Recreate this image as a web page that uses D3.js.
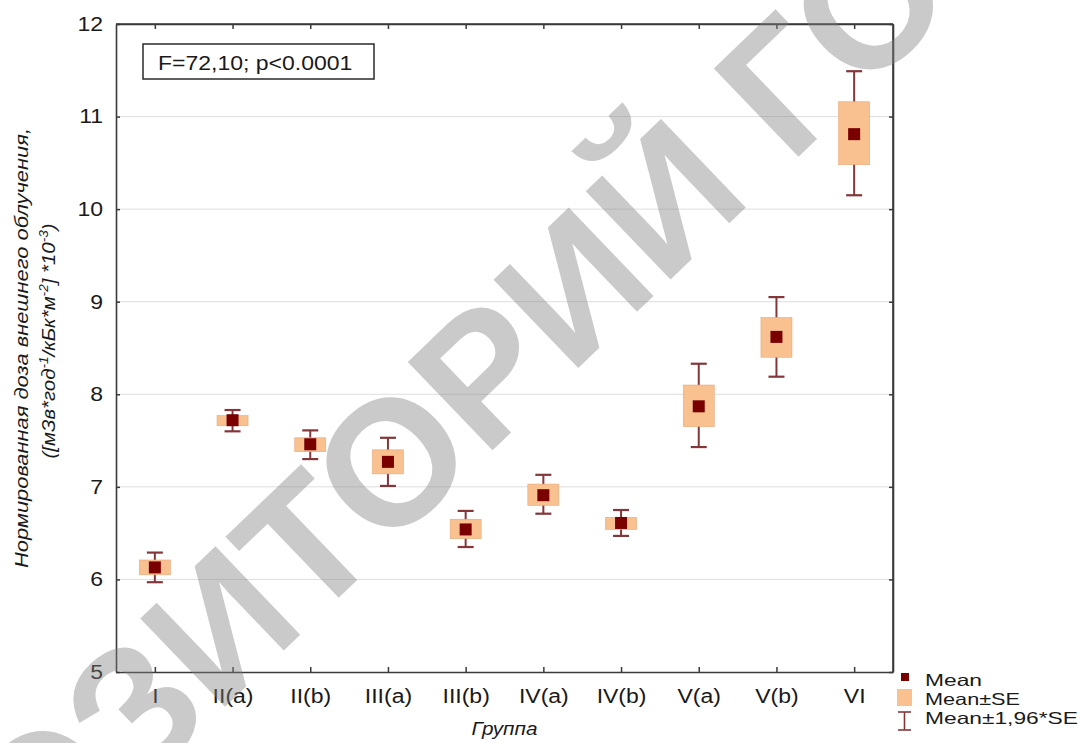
<!DOCTYPE html>
<html>
<head>
<meta charset="utf-8">
<script src="https://cdn.jsdelivr.net/npm/d3@7"></script>
<style>
  html, body { margin: 0; padding: 0; background: #fff; }
  svg { display: block; }
  text { font-family: "Liberation Sans", Arial, sans-serif; }
</style>
</head>
<body>
<svg id="chart" width="1082" height="743"></svg>
<script>
// ---- data ----
const categories = ["I", "II(a)", "II(b)", "III(a)", "III(b)", "IV(a)", "IV(b)", "V(a)", "V(b)", "VI"];
const means  = [6.13, 7.72, 7.46, 7.27, 6.54, 6.91, 6.61, 7.87, 8.62, 10.81];
const seLow  = [6.05, 7.66, 7.38, 7.14, 6.44, 6.80, 6.54, 7.65, 8.40, 10.48];
const seHigh = [6.21, 7.77, 7.53, 7.40, 6.65, 7.03, 6.67, 8.10, 8.83, 11.16];
const ciLow  = [5.97, 7.60, 7.30, 7.01, 6.35, 6.71, 6.47, 7.43, 8.19, 10.15];
const ciHigh = [6.29, 7.83, 7.61, 7.53, 6.74, 7.13, 6.75, 8.33, 9.05, 11.49];
const yTicks = [5, 6, 7, 8, 9, 10, 11, 12];
const annotation = "F=72,10; p<0.0001";
const xTitle = "Группа";
const legendLabels = ["Mean", "Mean±SE", "Mean±1,96*SE"];

// ---- layout ----
const L = 116, R = 893, T = 24, B = 672;
const svg = d3.select("#chart");
const stretch = 1.15;

const x = d3.scalePoint().domain(categories).range([L, R]).padding(0.5);
const y = d3.scaleLinear().domain([5, 12]).range([B, T]);

const rows = categories.map((c, i) => ({
  c, mean: means[i], seLo: seLow[i], seHi: seHigh[i], ciLo: ciLow[i], ciHi: ciHigh[i]
}));

// grid
svg.append("g").selectAll("line").data(yTicks.filter(v => v > 5 && v < 12)).join("line")
  .attr("x1", L).attr("x2", R).attr("y1", d => y(d)).attr("y2", d => y(d))
  .attr("stroke", "#dedede").attr("stroke-width", 1);

// axes
const axisColor = "#3a3a3a";
const gL = svg.append("g").attr("transform", `translate(${L},0)`)
  .call(d3.axisLeft(y).tickValues(yTicks).tickFormat(d3.format("d")).tickSizeInner(-4).tickSizeOuter(0).tickPadding(13));
const gB = svg.append("g").attr("transform", `translate(0,${B})`)
  .call(d3.axisBottom(x).tickSizeInner(-5).tickSizeOuter(0).tickPadding(17));
const gT = svg.append("g").attr("transform", `translate(0,${T})`)
  .call(d3.axisTop(x).tickSizeInner(-5).tickSizeOuter(0).tickFormat(""));
const gR = svg.append("g").attr("transform", `translate(${R},0)`)
  .call(d3.axisRight(y).tickValues(yTicks).tickSizeInner(-4).tickSizeOuter(0).tickFormat(""));
[gL, gB, gT, gR].forEach(g => {
  g.select(".domain").attr("stroke", axisColor).attr("stroke-width", 1.6);
  g.selectAll(".tick line").attr("stroke", axisColor).attr("stroke-width", 1.5);
  g.selectAll(".tick text").attr("fill", "#1a1a1a").style("font-size", "20px")
    .style("font-family", '"Liberation Sans", Arial, sans-serif');
});
svg.append("line").attr("x1", L).attr("x2", R).attr("y1", T).attr("y2", T).attr("stroke", axisColor).attr("stroke-width", 1.6);
svg.append("line").attr("x1", R).attr("x2", R).attr("y1", T).attr("y2", B).attr("stroke", axisColor).attr("stroke-width", 1.6);

// marks
const boxW = 31, capW = 16, meanS = 12;
const boxFill = "#f9c190", whisk = "#84373a", meanFill = "#7a0000";
const g = svg.append("g").selectAll("g").data(rows).join("g");
g.append("line").attr("x1", d => x(d.c)).attr("x2", d => x(d.c))
  .attr("y1", d => y(d.ciHi)).attr("y2", d => y(d.ciLo))
  .attr("stroke", whisk).attr("stroke-width", 2);
g.append("line").attr("x1", d => x(d.c) - capW / 2).attr("x2", d => x(d.c) + capW / 2)
  .attr("y1", d => y(d.ciHi)).attr("y2", d => y(d.ciHi)).attr("stroke", whisk).attr("stroke-width", 2.2);
g.append("line").attr("x1", d => x(d.c) - capW / 2).attr("x2", d => x(d.c) + capW / 2)
  .attr("y1", d => y(d.ciLo)).attr("y2", d => y(d.ciLo)).attr("stroke", whisk).attr("stroke-width", 2.2);
g.append("rect").attr("x", d => x(d.c) - boxW / 2).attr("width", boxW)
  .attr("y", d => y(d.seHi)).attr("height", d => y(d.seLo) - y(d.seHi))
  .attr("fill", boxFill).attr("stroke", "#e6a77a").attr("stroke-width", 0.6);
g.append("rect").attr("x", d => x(d.c) - meanS / 2).attr("y", d => y(d.mean) - meanS / 2)
  .attr("width", meanS).attr("height", meanS).attr("fill", meanFill);

// annotation box
svg.append("rect").attr("x", 143).attr("y", 44).attr("width", 231).attr("height", 35)
  .attr("fill", "#fff").attr("stroke", "#2a2a2a").attr("stroke-width", 1.5);
svg.append("text").attr("class", "st").attr("x", 158).attr("y", 70).attr("fill", "#1a1a1a")
  .style("font-size", "20px").text(annotation);

// x title
svg.append("text").attr("class", "st").attr("x", (L + R) / 2).attr("y", 735).attr("text-anchor", "middle")
  .attr("fill", "#1a1a1a").style("font-size", "18px").style("font-style", "italic").text(xTitle);

// y title
const yt = svg.append("g").attr("transform", "rotate(-90)");
yt.append("text").attr("x", -348).attr("y", 28).attr("text-anchor", "middle")
  .attr("fill", "#1a1a1a").style("font-size", "18px").style("font-style", "italic")
  .attr("textLength", 440).attr("lengthAdjust", "spacingAndGlyphs")
  .text("Нормированная доза внешнего облучения,");
const yt2 = yt.append("text").attr("x", -341).attr("y", 55).attr("text-anchor", "middle")
  .attr("fill", "#1a1a1a").style("font-size", "18px").style("font-style", "italic")
  .attr("textLength", 235).attr("lengthAdjust", "spacingAndGlyphs");
yt2.append("tspan").text("([мЗв*год");
yt2.append("tspan").attr("dy", -7).style("font-size", "12px").text("-1");
yt2.append("tspan").attr("dy", 7).text("/кБк*м");
yt2.append("tspan").attr("dy", -7).style("font-size", "12px").text("-2");
yt2.append("tspan").attr("dy", 7).text("] *10");
yt2.append("tspan").attr("dy", -7).style("font-size", "12px").text("-3");
yt2.append("tspan").attr("dy", 7).text(")");

// legend
const lg = svg.append("g");
lg.append("rect").attr("x", 901).attr("y", 673).attr("width", 8).attr("height", 8).attr("fill", meanFill);
lg.append("rect").attr("x", 897).attr("y", 689).attr("width", 15).attr("height", 17).attr("fill", boxFill);
lg.append("line").attr("x1", 904.5).attr("x2", 904.5).attr("y1", 712).attr("y2", 730).attr("stroke", whisk).attr("stroke-width", 1.6);
lg.append("line").attr("x1", 898).attr("x2", 911).attr("y1", 712).attr("y2", 712).attr("stroke", whisk).attr("stroke-width", 1.6);
lg.append("line").attr("x1", 898).attr("x2", 911).attr("y1", 730).attr("y2", 730).attr("stroke", whisk).attr("stroke-width", 1.6);
const legendWidths = [57, 95, 153];
lg.selectAll("text").data(legendLabels).join("text")
  .attr("x", 925).attr("y", (d, i) => 686 + i * 19).attr("fill", "#1a1a1a")
  .style("font-size", "16.5px").attr("textLength", (d, i) => legendWidths[i])
  .attr("lengthAdjust", "spacingAndGlyphs").text(d => d);

// horizontal stretch of plain texts to mimic the reference proportions
svg.selectAll(".tick text").classed("st", true);
svg.selectAll("text.st").each(function () {
  const len = this.getComputedTextLength();
  if (len > 0) d3.select(this).attr("textLength", len * stretch).attr("lengthAdjust", "spacingAndGlyphs");
});

// watermark (grey diagonal repository stamp drawn over the chart)
const wmText = "РЕПОЗИТОРИЙ ГОМ";
const wmFs = 178, wmAngle = -43.8;
const gOrigin = [790, 165];              // baseline start of the letter "Г"
function measure(s) {
  const t = svg.append("text").style("font-size", wmFs + "px").style("font-weight", "bold").text(s);
  const w = t.node().getComputedTextLength(); t.remove(); return w;
}
const prefixW = measure("РЕПОЗИТОРИЙ Г") - measure("Г");
svg.append("g").attr("pointer-events", "none")
  .attr("transform", `translate(${gOrigin[0]},${gOrigin[1]}) rotate(${wmAngle})`)
  .append("text").attr("x", -prefixW).attr("y", 0)
  .style("font-size", wmFs + "px").style("font-weight", "bold")
  .attr("fill", "#808080").attr("fill-opacity", 0.42)
  .text(wmText);
</script>
</body>
</html>
